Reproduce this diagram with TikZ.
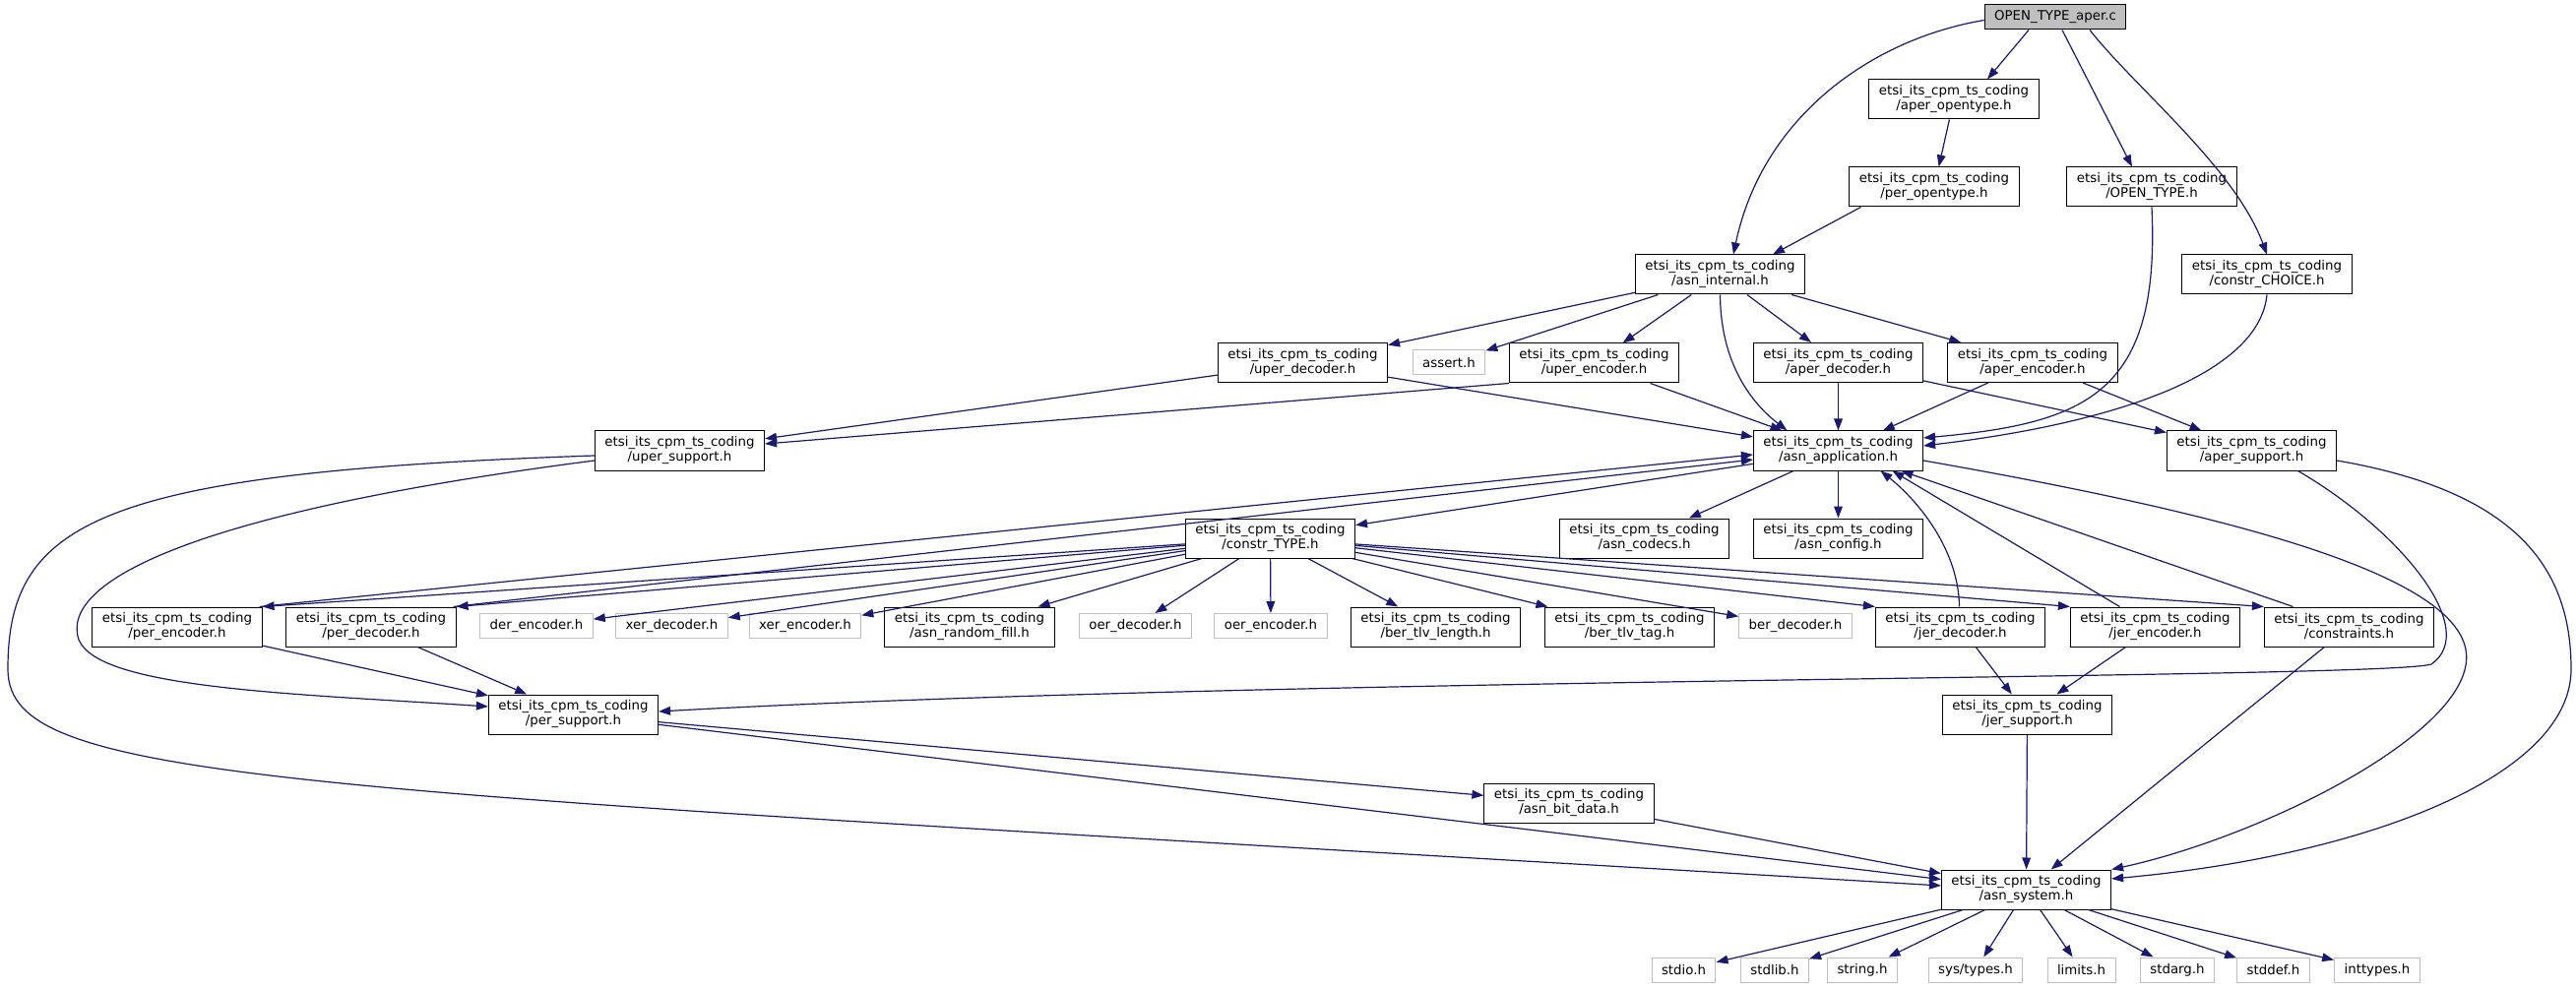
\documentclass[tikz,border=0pt]{standalone}
\usepackage{fontspec}
\setmainfont{DejaVu Sans}
\usetikzlibrary{arrows.meta,calc}
\definecolor{mblue}{RGB}{25,25,112}
\definecolor{lgray}{RGB}{191,191,191}
\newcommand{\etsi}{etsi\_its\_cpm\_ts\_coding}
\begin{document}
\begin{tikzpicture}[x=0.75pt,y=-0.75pt,
  box/.style={draw=black,line width=0.75pt,fill=white,align=center,minimum height=30pt,inner xsep=7.5pt,inner ysep=1pt,font=\fontsize{10}{11.25}\selectfont},
  sbox/.style={draw=lgray,line width=0.75pt,fill=white,minimum height=18.75pt,inner xsep=7.5pt,inner ysep=1pt,font=\fontsize{10}{12}\selectfont},
  rbox/.style={sbox,draw=black,fill=lgray},
  dep/.style={draw=mblue,line width=0.9pt,-{Triangle[length=9pt,width=6.5pt]}}]
\fill[white] (0,0) rectangle (2617,1005);
\useasboundingbox (0,0) rectangle (2617,1005);
% nodes
\node[rbox] (root) at (2088,17.5) {OPEN\_TYPE\_aper.c};
\node[box] (aop) at (1985,101) {\etsi\\/aper\_opentype.h};
\node[box] (pop) at (1965,190) {\etsi\\/per\_opentype.h};
\node[box] (otype) at (2186,190) {\etsi\\/OPEN\_TYPE.h};
\node[box] (ai) at (1747.5,279) {\etsi\\/asn\_internal.h};
\node[box] (cchoice) at (2303,279) {\etsi\\/constr\_CHOICE.h};
\node[box] (ud) at (1323.5,369) {\etsi\\/uper\_decoder.h};
\node[sbox] (assert) at (1472,368.5) {assert.h};
\node[box] (ue) at (1619.5,369) {\etsi\\/uper\_encoder.h};
\node[box] (ad) at (1867.5,368.5) {\etsi\\/aper\_decoder.h};
\node[box] (ae) at (2065,368.5) {\etsi\\/aper\_encoder.h};
\node[box] (usup) at (690.5,458) {\etsi\\/uper\_support.h};
\node[box] (asapp) at (1867.5,458) {\etsi\\/asn\_application.h};
\node[box] (asup) at (2287.5,458) {\etsi\\/aper\_support.h};
\node[box] (ct) at (1290.5,547) {\etsi\\/constr\_TYPE.h};
\node[box] (codecs) at (1670.5,547) {\etsi\\/asn\_codecs.h};
\node[box] (config) at (1867.5,547) {\etsi\\/asn\_config.h};
\node[box] (pe) at (180,637) {\etsi\\/per\_encoder.h};
\node[box] (pd) at (377,637) {\etsi\\/per\_decoder.h};
\node[sbox] (der) at (545,636) {der\_encoder.h};
\node[sbox] (xd) at (682.5,636) {xer\_decoder.h};
\node[sbox] (xe) at (818,636) {xer\_encoder.h};
\node[box] (arf) at (985,637) {\etsi\\/asn\_random\_fill.h};
\node[sbox] (oerd) at (1153.5,636) {oer\_decoder.h};
\node[sbox] (oere) at (1291,636) {oer\_encoder.h};
\node[box] (btl) at (1458.5,637) {\etsi\\/ber\_tlv\_length.h};
\node[box] (btt) at (1655.5,637) {\etsi\\/ber\_tlv\_tag.h};
\node[sbox] (berd) at (1824,636) {ber\_decoder.h};
\node[box] (jd) at (1991.5,637) {\etsi\\/jer\_decoder.h};
\node[box] (je) at (2189.5,637) {\etsi\\/jer\_encoder.h};
\node[box] (cons) at (2386.5,637) {\etsi\\/constraints.h};
\node[box] (psup) at (582.5,726) {\etsi\\/per\_support.h};
\node[box] (jsup) at (2059.5,726) {\etsi\\/jer\_support.h};
\node[box] (abd) at (1594,816) {\etsi\\/asn\_bit\_data.h};
\node[box] (asys) at (2058.5,904) {\etsi\\/asn\_system.h};
\node[sbox] (stdio) at (1710.5,985.5) {stdio.h};
\node[sbox] (stdlib) at (1803,985.5) {stdlib.h};
\node[sbox] (string) at (1892,985.5) {string.h};
\node[sbox] (systypes) at (2007,985.5) {sys/types.h};
\node[sbox] (limits) at (2114.5,985.5) {limits.h};
\node[sbox] (stdarg) at (2212,985.5) {stdarg.h};
\node[sbox] (stddef) at (2309.5,985.5) {stddef.h};
\node[sbox] (inttypes) at (2415,985.5) {inttypes.h};
% edges from root
\draw[dep] ($(root.west)+(0,3)$) .. controls (1900,40) and (1790,120) .. ($(ai.north)+(13.5,0)$);
\draw[dep] ($(root.south)+(-27,0)$) -- ($(aop.north)+(34,0)$);
\draw[dep] ($(root.south)+(7,0)$) -- ($(otype.north)+(-20,0)$);
\draw[dep] ($(root.south)+(35,0)$) .. controls (2170,90) and (2270,170) .. (cchoice.north);
\draw[dep] (aop) -- (pop);
\draw[dep] ($(pop.south west)+(12,0)$) -- ($(ai.north)+(53.5,0)$);
\draw[dep] (otype.south) .. controls (2195,400) and (2120,430) .. ($(asapp.east)+(0,-13)$);
\draw[dep] (cchoice.south) .. controls (2295,380) and (2150,430) .. ($(asapp.east)+(0,-5)$);
% asn_internal
\draw[dep] (ai) -- (ud);
\draw[dep] (ai) -- (assert);
\draw[dep] (ai) -- (ue);
\draw[dep] (ai.south) .. controls (1748,370) and (1780,410) .. ($(asapp.north)+(-52,0)$);
\draw[dep] (ai) -- (ad);
\draw[dep] (ai) -- (ae);
% row 2
\draw[dep] (ud) -- (usup);
\draw[dep] (ud) -- (asapp);
\draw[dep] (ue.south west) -- (usup);
\draw[dep] (ue) -- (asapp);
\draw[dep] (ad) -- (asapp);
\draw[dep] (ad) -- (asup);
\draw[dep] (ae) -- (asapp);
\draw[dep] (ae) -- (asup);
% uper_support
\draw[dep] ($(usup.west)+(0,5)$) .. controls (100,480) and (8,530) .. (8,680) .. controls (8,800) and (300,800) .. ($(asys.west)+(0,-4)$);
\draw[dep] ($(usup.west)+(0,10)$) .. controls (200,520) and (60,590) .. (80,650) .. controls (100,700) and (300,705) .. ($(psup.west)+(0,-8)$);
% asn_application
\draw[dep] (asapp) -- (ct);
\draw[dep] (asapp) -- (codecs);
\draw[dep] (asapp) -- (config);
\draw[dep] ($(asapp.east)+(0,10)$) .. controls (2250,520) and (2490,580) .. (2505,660) .. controls (2520,740) and (2300,850) .. (asys.north east);
% aper_support
\draw[dep] ($(asup.east)+(0,10)$) .. controls (2560,500) and (2612,580) .. (2612,680) .. controls (2612,790) and (2400,870) .. ($(asys.east)+(0,-11)$);
\draw[dep] ($(asup.south)+(47,0)$) .. controls (2440,540) and (2520,640) .. (2470,675) .. controls (2420,690) and (1300,688) .. ($(psup.east)+(0,-3)$);
% constr_TYPE
\draw[dep] (ct) -- (pe.north east);
\draw[dep] (ct) -- (pd.north east);
\draw[dep] (ct) -- (der);
\draw[dep] (ct) -- (xd);
\draw[dep] (ct) -- (xe);
\draw[dep] (ct) -- (arf);
\draw[dep] (ct) -- (oerd);
\draw[dep] (ct) -- (oere);
\draw[dep] (ct) -- (btl);
\draw[dep] (ct) -- (btt);
\draw[dep] (ct) -- (berd);
\draw[dep] (ct) -- (jd.north west);
\draw[dep] (ct) -- (je.north west);
\draw[dep] (ct) -- (cons.north west);
% back edges to asn_application
\draw[dep] ($(pe.north east)+(-3,0)$) -- ($(asapp.west)+(0,4)$);
\draw[dep] ($(pd.north east)+(-3,0)$) -- ($(asapp.west)+(0,9)$);
\draw[dep] ($(jd.north)+(-1,0)$) .. controls (1990,560) and (1950,510) .. ($(asapp.south)+(43,0)$);
\draw[dep] ($(je.north)+(-36,0)$) -- ($(asapp.south)+(55,0)$);
\draw[dep] ($(cons.north)+(-57,0)$) -- ($(asapp.south)+(64,0)$);
% supports
\draw[dep] (pe) -- (psup);
\draw[dep] (pd) -- (psup);
\draw[dep] (jd) -- (jsup);
\draw[dep] (je) -- (jsup);
\draw[dep] (cons) -- (asys);
\draw[dep] (jsup) -- (asys);
\draw[dep] (psup) -- (abd);
\draw[dep] (psup) -- (asys);
\draw[dep] (abd) -- (asys);
% asn_system
\foreach \n in {stdio,stdlib,string,systypes,limits,stdarg,stddef,inttypes}
  \draw[dep] (asys) -- (\n);
\end{tikzpicture}
\end{document}
